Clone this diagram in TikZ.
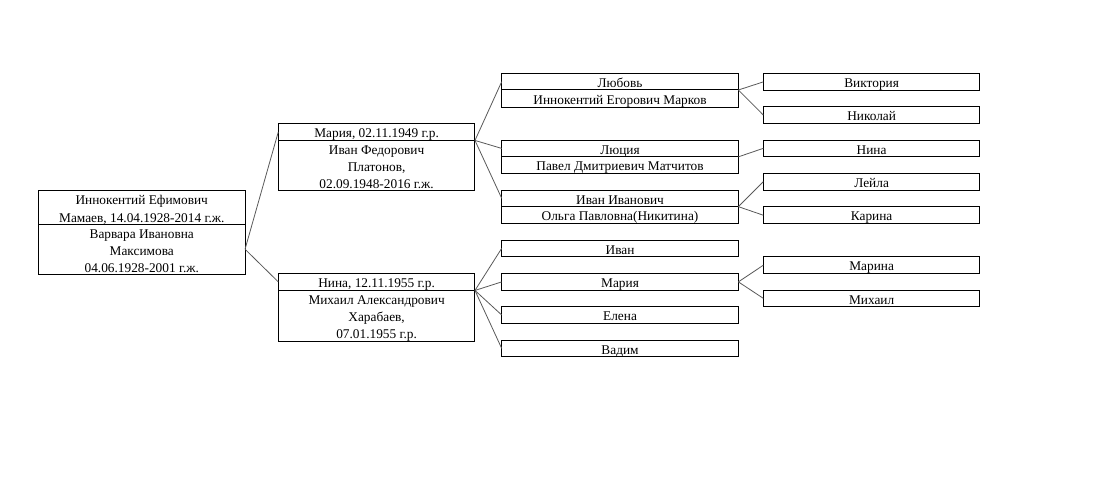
\documentclass[tikz,border=0pt]{standalone}
\usepackage{fontspec}
\setmainfont{Liberation Serif}
\newcommand\rs{\rule[-1.8pt]{0pt}{12.5pt}}
\newcommand\Ln[1]{\hbox to 0pt{\hss\rs #1\hss}}
\newcommand\Ls[1]{\vbox{\offinterlineskip #1}}
\begin{document}
\begin{tikzpicture}[x=0.75pt,y=-12.5pt,
  part/.style={draw=black, line width=0.75pt, inner sep=0pt, outer sep=0pt, anchor=north west, font=\fontsize{10}{12.5}\selectfont},
  r1/.style={minimum height=12.5pt},
  r2/.style={minimum height=25pt},
  r3/.style={minimum height=37.5pt},
  c0/.style={minimum width=154.9pt},
  c1/.style={minimum width=147.5pt},
  c2/.style={minimum width=177.5pt},
  c3/.style={minimum width=162.5pt},
  link/.style={draw=black!65, line width=0.6pt}]
\useasboundingbox (0,0) rectangle (1096,29.1);
% root
\node[part,c0,r2] (root) at (38.5,11.44) {\Ls{\Ln{Иннокентий Ефимович}\Ln{Мамаев, 14.04.1928-2014 г.ж.}}};
\node[part,c0,r3] (rootsp) at (38.5,13.44) {\Ls{\Ln{Варвара Ивановна}\Ln{Максимова}\Ln{04.06.1928-2001 г.ж.}}};
% level 1
\node[part,c1,r1] (m1) at (278.3,7.4) {\Ls{\Ln{Мария, 02.11.1949 г.р.}}};
\node[part,c1,r3] (m1sp) at (278.3,8.4) {\Ls{\Ln{Иван Федорович}\Ln{Платонов,}\Ln{02.09.1948-2016 г.ж.}}};
\node[part,c1,r1] (n1) at (278.3,16.4) {\Ls{\Ln{Нина, 12.11.1955 г.р.}}};
\node[part,c1,r3] (n1sp) at (278.3,17.4) {\Ls{\Ln{Михаил Александрович}\Ln{Харабаев,}\Ln{07.01.1955 г.р.}}};
% level 2
\node[part,c2,r1] (lub) at (501.7,4.4) {\Ls{\Ln{Любовь}}};
\node[part,c2,r1] (lubsp) at (501.7,5.4) {\Ls{\Ln{Иннокентий Егорович Марков}}};
\node[part,c2,r1] (lus) at (501.7,8.4) {\Ls{\Ln{Люция}}};
\node[part,c2,r1] (lussp) at (501.7,9.4) {\Ls{\Ln{Павел Дмитриевич Матчитов}}};
\node[part,c2,r1] (ii) at (501.7,11.4) {\Ls{\Ln{Иван Иванович}}};
\node[part,c2,r1] (iisp) at (501.7,12.4) {\Ls{\Ln{Ольга Павловна(Никитина)}}};
\node[part,c2,r1] (ivan) at (501.7,14.4) {\Ls{\Ln{Иван}}};
\node[part,c2,r1] (m2) at (501.7,16.4) {\Ls{\Ln{Мария}}};
\node[part,c2,r1] (elena) at (501.7,18.4) {\Ls{\Ln{Елена}}};
\node[part,c2,r1] (vadim) at (501.7,20.4) {\Ls{\Ln{Вадим}}};
% level 3
\node[part,c3,r1] (vik) at (763.3,4.4) {\Ls{\Ln{Виктория}}};
\node[part,c3,r1] (nik) at (763.3,6.4) {\Ls{\Ln{Николай}}};
\node[part,c3,r1] (nina3) at (763.3,8.4) {\Ls{\Ln{Нина}}};
\node[part,c3,r1] (leila) at (763.3,10.4) {\Ls{\Ln{Лейла}}};
\node[part,c3,r1] (karina) at (763.3,12.4) {\Ls{\Ln{Карина}}};
\node[part,c3,r1] (marina) at (763.3,15.4) {\Ls{\Ln{Марина}}};
\node[part,c3,r1] (mikhail) at (763.3,17.4) {\Ls{\Ln{Михаил}}};
% connectors
\draw[link] (rootsp.east) -- (m1.west);
\draw[link] (rootsp.east) -- (n1.west);
\draw[link] (m1.south east) -- (lub.west);
\draw[link] (m1.south east) -- (lus.west);
\draw[link] (m1.south east) -- (ii.west);
\draw[link] (n1.south east) -- (ivan.west);
\draw[link] (n1.south east) -- (m2.west);
\draw[link] (n1.south east) -- (elena.west);
\draw[link] (n1.south east) -- (vadim.west);
\draw[link] (lub.south east) -- (vik.west);
\draw[link] (lub.south east) -- (nik.west);
\draw[link] (lus.south east) -- (nina3.west);
\draw[link] (ii.south east) -- (leila.west);
\draw[link] (ii.south east) -- (karina.west);
\draw[link] (m2.east) -- (marina.west);
\draw[link] (m2.east) -- (mikhail.west);
\end{tikzpicture}
\end{document}
